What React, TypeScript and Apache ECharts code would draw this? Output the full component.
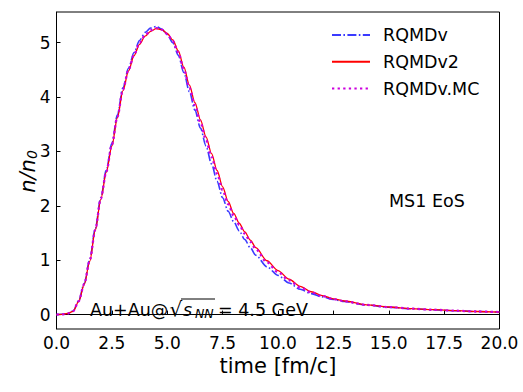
import React, { useEffect, useRef } from "react";
import * as echarts from "echarts";

const times = [0, 0.25, 0.5, 0.75, 1.0, 1.25, 1.5, 1.75, 2.0, 2.25, 2.5, 2.75, 3.0, 3.25, 3.5, 3.75, 4.0, 4.25, 4.5, 4.75, 5.0, 5.25, 5.5, 5.75, 6.0, 6.25, 6.5, 6.75, 7.0, 7.25, 7.5, 7.75, 8.0, 8.25, 8.5, 8.75, 9.0, 9.5, 10.0, 10.5, 11.0, 11.5, 12.0, 12.5, 13.0, 14.0, 15.0, 16.0, 17.0, 18.0, 19.0, 20.0];

const rqmdv = [0.0, 0.005, 0.02, 0.065, 0.25, 0.57, 1.01, 1.58, 2.15, 2.66, 3.15, 3.67, 4.17, 4.53, 4.82, 5.04, 5.19, 5.27, 5.30, 5.25, 5.15, 5.0, 4.77, 4.45, 4.1, 3.76, 3.43, 3.1, 2.77, 2.45, 2.15, 1.9, 1.71, 1.54, 1.38, 1.23, 1.09, 0.88, 0.72, 0.58, 0.465, 0.385, 0.325, 0.278, 0.24, 0.175, 0.135, 0.108, 0.088, 0.07, 0.056, 0.045];

const rqmdv2 = [0.0, 0.005, 0.02, 0.06, 0.24, 0.55, 0.98, 1.55, 2.12, 2.62, 3.1, 3.62, 4.12, 4.48, 4.76, 4.97, 5.12, 5.21, 5.26, 5.24, 5.17, 5.05, 4.85, 4.55, 4.22, 3.9, 3.58, 3.27, 2.96, 2.65, 2.35, 2.08, 1.86, 1.68, 1.52, 1.37, 1.23, 0.99, 0.81, 0.65, 0.52, 0.42, 0.35, 0.29, 0.25, 0.18, 0.14, 0.11, 0.09, 0.072, 0.057, 0.046];

const rqmdvMC = [0.0, 0.005, 0.02, 0.062, 0.245, 0.56, 0.99, 1.56, 2.13, 2.63, 3.12, 3.64, 4.14, 4.5, 4.78, 5.0, 5.14, 5.23, 5.27, 5.24, 5.16, 5.03, 4.82, 4.51, 4.17, 3.85, 3.53, 3.21, 2.9, 2.59, 2.29, 2.03, 1.82, 1.65, 1.49, 1.34, 1.2, 0.96, 0.78, 0.63, 0.5, 0.41, 0.34, 0.285, 0.245, 0.178, 0.138, 0.11, 0.089, 0.071, 0.057, 0.046];

const xTicks = [0, 2.5, 5, 7.5, 10, 12.5, 15, 17.5, 20];
const xTickLabels = ["0.0", "2.5", "5.0", "7.5", "10.0", "12.5", "15.0", "17.5", "20.0"];
const yTicks = [0, 1, 2, 3, 4, 5];
const yTickLabels = ["0", "1", "2", "3", "4", "5"];

const seriesNames = ["RQMDv", "RQMDv2", "RQMDv.MC"];

const FONT = "DejaVu Sans";

function pairs(ys: number[]) {
  return times.map((t, i) => [t, ys[i]]);
}

function txt(x: number, y: number, text: string, fontSize: number, italic = false) {
  return {
    type: "text",
    x,
    y,
    style: {
      text,
      fontFamily: FONT,
      fontStyle: italic ? "italic" : "normal",
      fontSize,
      fill: "#000",
      align: "left",
      verticalAlign: "middle",
    },
  };
}

export default function App() {
  const ref = useRef<HTMLDivElement>(null);
  useEffect(() => {
    if (!ref.current) return;
    const chart = echarts.init(ref.current, null, { renderer: "svg" });
    const option: any = {
      animation: false,
      backgroundColor: "#ffffff",
      grid: {
        left: 56.5,
        right: 23.5,
        top: 12,
        bottom: 63,
        show: true,
        borderColor: "#000",
        borderWidth: 1,
        backgroundColor: "transparent",
      },
      xAxis: {
        type: "value",
        min: 0,
        max: 20,
        name: "time [fm/c]",
        nameLocation: "middle",
        nameGap: 26,
        nameTextStyle: { fontFamily: FONT, fontSize: 21, color: "#000" },
        axisLine: { show: true, lineStyle: { color: "#000", width: 1 } },
        axisTick: {
          show: true,
          inside: true,
          length: 4,
          customValues: xTicks,
          lineStyle: { color: "#000", width: 1 },
        },
        axisLabel: {
          customValues: xTicks,
          formatter: (v: number) => xTickLabels[xTicks.indexOf(v)] ?? "",
          fontFamily: FONT,
          fontSize: 17,
          color: "#000",
          margin: 5,
          showMaxLabel: true,
          showMinLabel: true,
        },
        splitLine: { show: false },
      },
      yAxis: {
        type: "value",
        min: -0.265,
        max: 5.565,
        axisLine: { show: true, lineStyle: { color: "#000", width: 1 } },
        axisTick: {
          show: true,
          inside: true,
          length: 4,
          customValues: yTicks,
          lineStyle: { color: "#000", width: 1 },
        },
        axisLabel: {
          customValues: yTicks,
          formatter: (v: number) => yTickLabels[yTicks.indexOf(v)] ?? "",
          fontFamily: FONT,
          fontSize: 17,
          color: "#000",
          margin: 6,
        },
        splitLine: { show: false },
      },
      legend: {
        orient: "vertical",
        left: 331,
        top: 26,
        padding: 0,
        itemWidth: 38,
        itemHeight: 14,
        itemGap: 8.8,
        itemStyle: { opacity: 0 },
        data: seriesNames,
        textStyle: {
          fontFamily: FONT,
          fontSize: 17.5,
          color: "#000",
          lineHeight: 18,
          padding: [0, 0, 0, 8],
        },
      },
      series: [
        {
          name: seriesNames[0],
          type: "line",
          data: pairs(rqmdv),
          showSymbol: false,
          symbol: "none",
          smooth: 0.3,
          smoothMonotone: "x",
          lineStyle: { color: "#3a3aff", width: 1.6, type: [9, 2.4, 1.6, 2.4] },
          itemStyle: { color: "#3a3aff" },
          z: 2,
        },
        {
          name: seriesNames[1],
          type: "line",
          data: pairs(rqmdv2),
          showSymbol: false,
          symbol: "none",
          smooth: 0.3,
          smoothMonotone: "x",
          lineStyle: { color: "#ff0000", width: 1.3, type: "solid" },
          itemStyle: { color: "#ff0000" },
          z: 3,
        },
        {
          name: seriesNames[2],
          type: "line",
          data: pairs(rqmdvMC),
          showSymbol: false,
          symbol: "none",
          smooth: 0.3,
          smoothMonotone: "x",
          lineStyle: { color: "#cc00dd", width: 2.3, type: [2.3, 3.3] },
          itemStyle: { color: "#cc00dd" },
          z: 4,
        },
      ],
      graphic: [
        {
          type: "group",
          x: 28,
          y: 171.5,
          rotation: Math.PI / 2,
          children: [
            {
              type: "text",
              x: -21.3,
              y: 0,
              style: {
                text: "n/n",
                fontFamily: FONT,
                fontStyle: "italic",
                fontSize: 21,
                fill: "#000",
                align: "left",
                verticalAlign: "middle",
              },
            },
            {
              type: "text",
              x: 12.4,
              y: 4,
              style: {
                text: "0",
                fontFamily: FONT,
                fontStyle: "italic",
                fontSize: 14,
                fill: "#000",
                align: "left",
                verticalAlign: "middle",
              },
            },
          ],
        },
        txt(389, 200.5, "MS1 EoS", 17.5),
        txt(90, 310, "Au+Au@", 17.5),
        txt(169.5, 308.5, "√", 20),
        txt(183, 310, "s", 17.5, true),
        txt(195, 313.7, "NN", 12.5, true),
        txt(218, 310, "= 4.5 GeV", 17.5),
        {
          type: "line",
          shape: { x1: 181, y1: 299, x2: 215, y2: 299 },
          style: { stroke: "#000", lineWidth: 1 },
        },
      ],
    };
    chart.setOption(option);
    return () => chart.dispose();
  }, []);
  return (
    <div
      ref={ref}
      style={{ position: "fixed", left: 0, top: 0, width: 523, height: 392 }}
    />
  );
}
